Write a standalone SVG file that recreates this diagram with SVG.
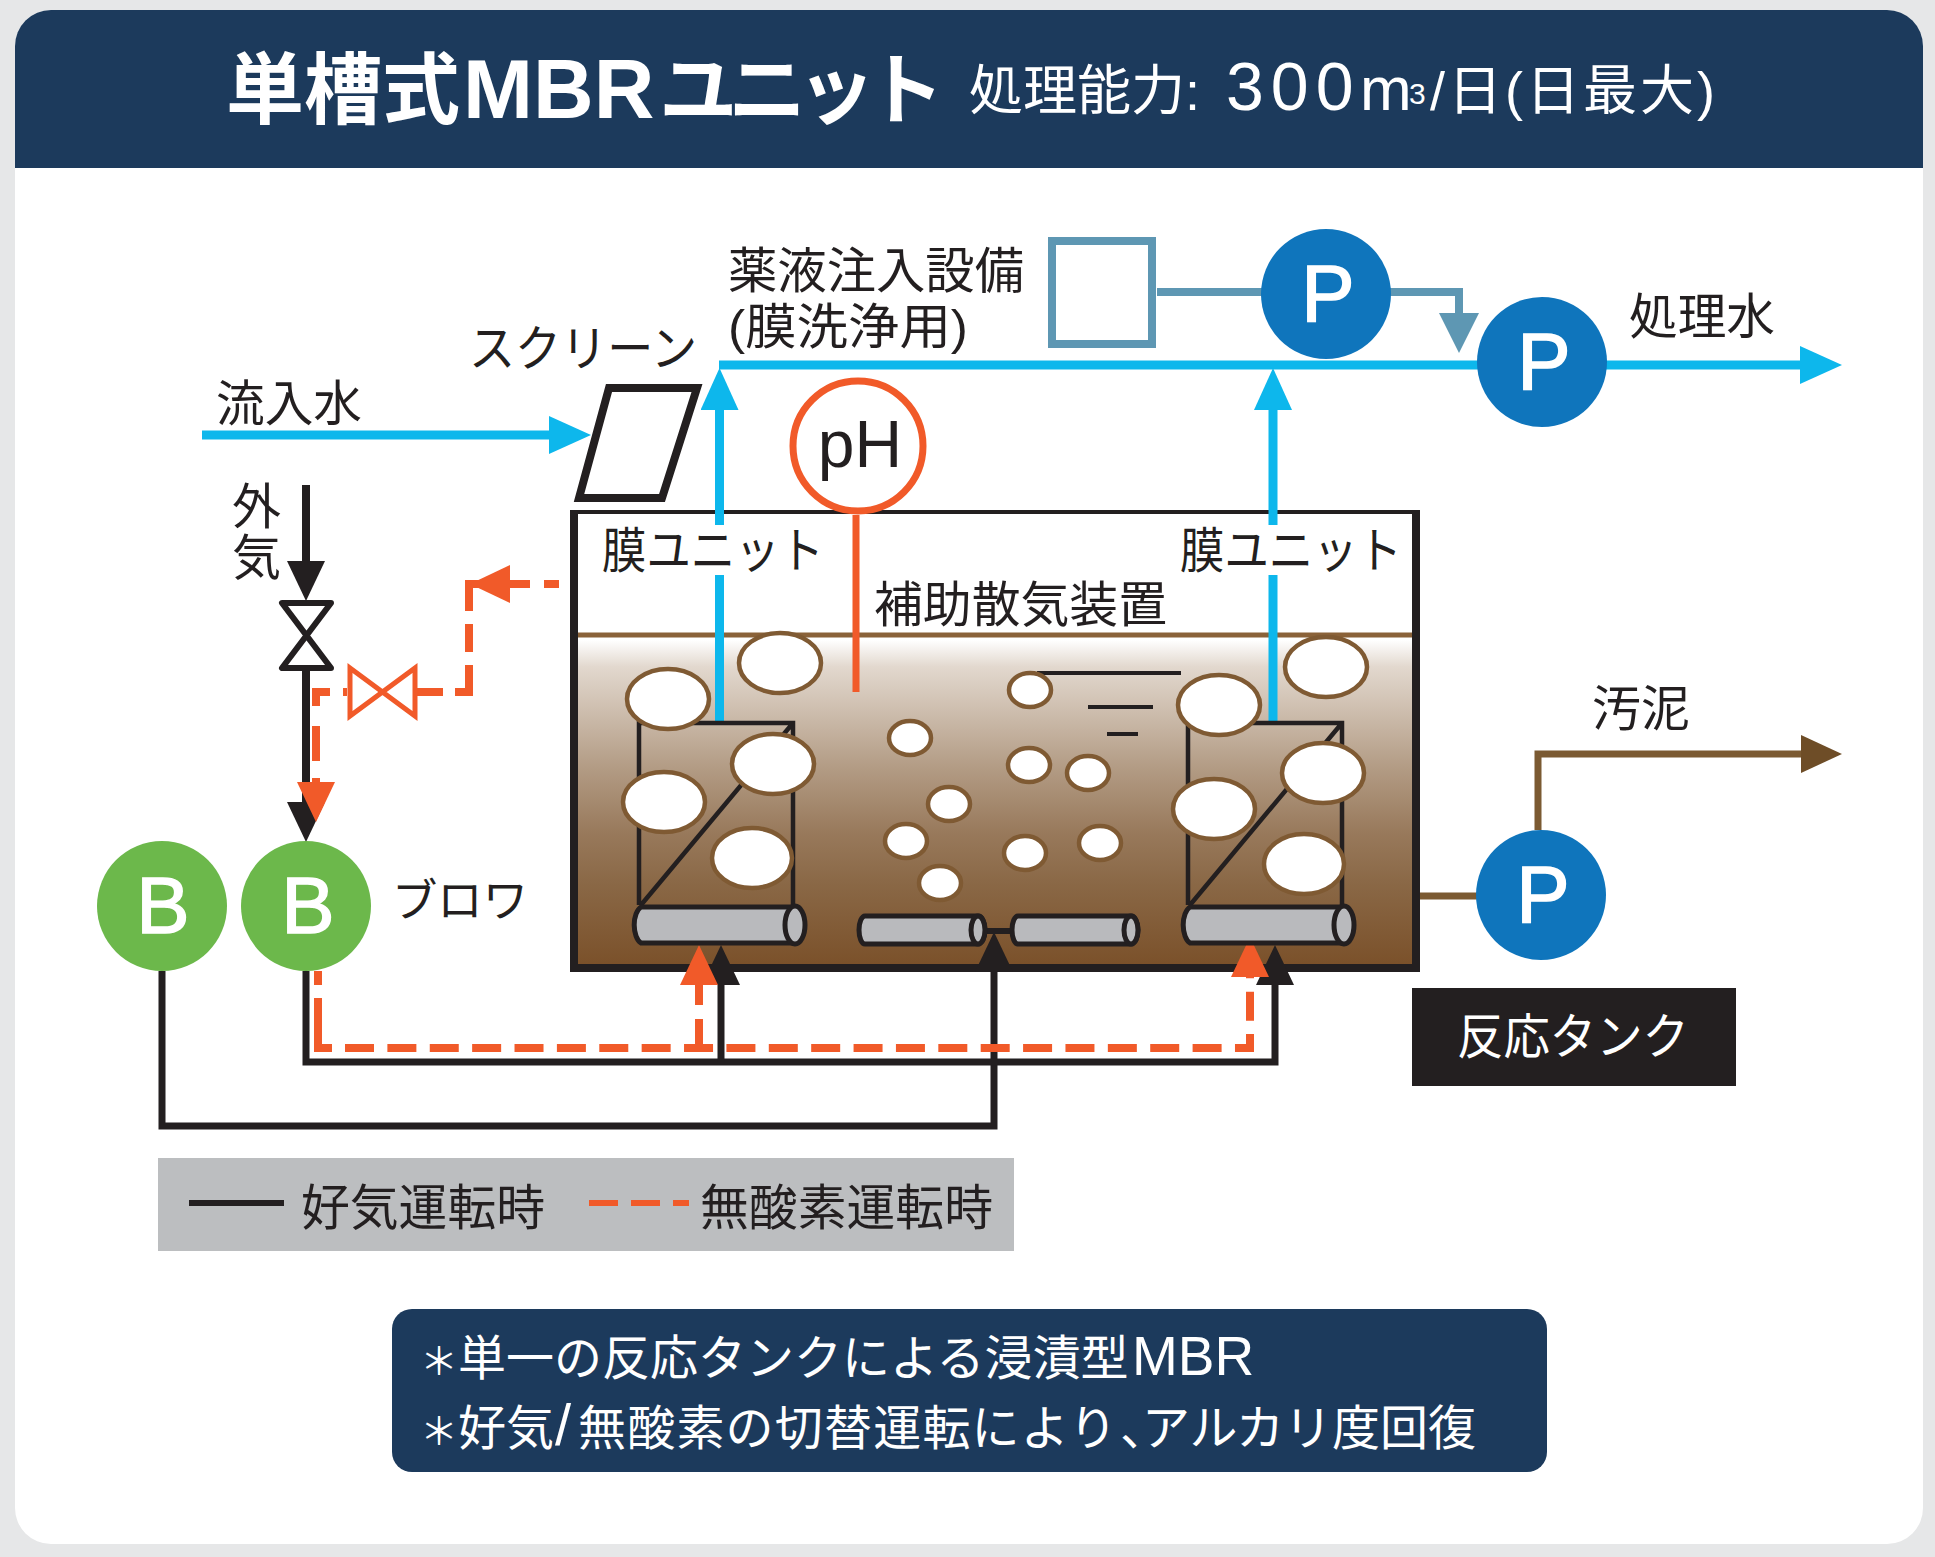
<svg xmlns="http://www.w3.org/2000/svg" width="1935" height="1557" viewBox="0 0 1935 1557">
<defs>
<style>
text{font-family:"Liberation Sans","Noto Sans CJK JP",sans-serif;fill:#231f20;font-size:49px}
.w{fill:#fff}
.sym{font-size:80px;fill:#fff;text-anchor:middle;stroke:#fff;stroke-width:1.500}
.bubL,.bubS{fill:#fff;stroke:#7f5a33;stroke-width:4.500}
.k{fill:none;stroke:#231f20;stroke-width:7}
.b{fill:none;stroke:#0db7ec;stroke-width:9}
.o{fill:none;stroke:#f15a29;stroke-width:8}
.t{fill:none;stroke:#5e97b3;stroke-width:8}
.br{fill:none;stroke:#7b5a32;stroke-width:7}
.cyl{fill:#b9babd;stroke:#231f20;stroke-width:5}
.unit{fill:none;stroke:#231f20;stroke-width:4.500}
</style>
<linearGradient id="water" x1="0" y1="0" x2="0" y2="1">
<stop offset="0" stop-color="#fff"/><stop offset="0.015" stop-color="#fff"/><stop offset="0.096" stop-color="#e2d8ce"/><stop offset="0.396" stop-color="#b39c85"/><stop offset="0.595" stop-color="#98795b"/><stop offset="0.745" stop-color="#8a6846"/><stop offset="1" stop-color="#7a5029"/>
</linearGradient>
<marker id="aB" markerUnits="userSpaceOnUse" markerWidth="42" markerHeight="38" refX="0" refY="19" orient="auto"><path d="M0 0L42 19L0 38Z" fill="#0db7ec"/></marker>
<marker id="aK" markerUnits="userSpaceOnUse" markerWidth="40" markerHeight="38" refX="0" refY="19" orient="auto"><path d="M0 0L40 19L0 38Z" fill="#231f20"/></marker>
<marker id="aO" markerUnits="userSpaceOnUse" markerWidth="40" markerHeight="38" refX="0" refY="19" orient="auto"><path d="M0 0L40 19L0 38Z" fill="#f15a29"/></marker>
<marker id="aT" markerUnits="userSpaceOnUse" markerWidth="40" markerHeight="40" refX="0" refY="20" orient="auto"><path d="M0 0L40 20L0 40Z" fill="#5e97b3"/></marker>
<marker id="aBr" markerUnits="userSpaceOnUse" markerWidth="41" markerHeight="38" refX="0" refY="19" orient="auto"><path d="M0 0L41 19L0 38Z" fill="#6e4d27"/></marker>
</defs>
<rect width="1935" height="1557" fill="#e6e7e8"/>
<g id="card">
<rect x="15" y="10" width="1908" height="1534" rx="36" fill="#fff"/>
<path d="M15 168V46A36 36 0 0 1 51 10H1887A36 36 0 0 1 1923 46V168Z" fill="#1c3a5c"/>
<text class="w" x="226" y="118" font-weight="700" style="font-size:78px">単槽式<tspan style="font-size:84px" dx="3">MBR</tspan><tspan dx="5" letter-spacing="-9">ユニット</tspan></text>
<text class="w" x="969" y="110" style="font-size:54px">処理能力:<tspan x="1226" style="font-size:68px" letter-spacing="7">300</tspan><tspan x="1360" style="font-size:62px">m</tspan><tspan x="1409" style="font-size:30px" dy="-6">3</tspan><tspan x="1430" dy="6" letter-spacing="3">/日(日最大)</tspan></text>
</g>
<g id="tank">
<rect x="574" y="635" width="842" height="333" fill="url(#water)"/>
<path d="M574 635H1416" stroke="#8a6239" stroke-width="5" fill="none"/>
<path fill-rule="evenodd" fill="#231f20" d="M570 510H1420V972H570ZM578 514V964H1412V514Z"/>
<path d="M1037 673H1181M1088 707H1153M1107 734H1138" stroke="#231f20" fill="none" stroke-width="4"/>
<text x="874" y="622" textLength="293" lengthAdjust="spacingAndGlyphs">補助散気装置</text>
</g>
<g id="connectors">
<path class="b" d="M202 435H549" marker-end="url(#aB)"/>
<path class="b" d="M719 365H1800" marker-end="url(#aB)"/>
<path class="b" d="M719.500 525V410" marker-end="url(#aB)"/>
<path class="b" d="M719.500 723V575"/>
<path class="b" d="M1273 525V410" marker-end="url(#aB)"/>
<path class="b" d="M1273 723V575"/>
<path class="t" d="M1157 292H1459V313" marker-end="url(#aT)"/>
<path class="br" d="M1420 896H1480"/>
<path class="br" d="M1538 830V754H1801" marker-end="url(#aBr)"/>
<path d="M856 515V692" fill="none" stroke="#f15a29" stroke-width="7"/>
<path class="k" style="stroke-width:8" d="M306 485V561" marker-end="url(#aK)"/>
<path class="k" style="stroke-width:8" d="M306 671V802" marker-end="url(#aK)"/>
<path class="k" d="M162 971V1126H994V972" marker-end="url(#aK)"/>
<path class="k" d="M306 971V1062H1275V985" marker-end="url(#aK)"/>
<path class="k" d="M721 1062V985" marker-end="url(#aK)"/>
<path d="M985 931H1011" stroke="#231f20" stroke-width="6" fill="none"/>
<path class="o" stroke-dasharray="26 12 41 13 28 13 88 14 15 200" d="M417 692H469V584H559"/>
<path d="M510 584H473" stroke="none" fill="none" marker-start="url(#aO)"/>
<path class="o" d="M347 692H343"/>
<path class="o" stroke-dasharray="28 20 35 17 200" d="M330 692H316V782" marker-end="url(#aO)"/>
<path class="o" d="M318 971V985M318 998V1048H332"/>
<path class="o" stroke-dasharray="29 13.380" d="M345 1048H1250V977" marker-end="url(#aO)"/>
<path class="o" stroke-dasharray="29 14" d="M699 1048V985" marker-end="url(#aO)"/>
</g>
<g id="screen">
<path d="M609 388H697L662 498H579Z" fill="#fff" stroke="#231f20" stroke-width="8"/>
<text x="469" y="366" textLength="228" lengthAdjust="spacingAndGlyphs">スクリーン</text>
</g>
<g id="inflow-label"><text x="216" y="421" textLength="146" lengthAdjust="spacingAndGlyphs">流入水</text></g>
<g id="chem">
<rect x="1052" y="241" width="100" height="103" fill="#fff" stroke="#5e97b3" stroke-width="8"/>
<text x="728" y="288" textLength="296" lengthAdjust="spacingAndGlyphs">薬液注入設備</text>
<text x="728" y="344" textLength="240" lengthAdjust="spacingAndGlyphs">(膜洗浄用)</text>
</g>
<g id="pump1"><circle cx="1326" cy="294" r="65" fill="#0f75bc"/><text class="sym" x="1328" y="321">P</text></g>
<g id="pump2"><circle cx="1542" cy="362" r="65" fill="#0f75bc"/><text class="sym" x="1544" y="389">P</text></g>
<g id="treated-label"><text x="1629" y="334" textLength="146" lengthAdjust="spacingAndGlyphs">処理水</text></g>
<g id="pump3"><circle cx="1541" cy="895" r="65" fill="#0f75bc"/><text class="sym" x="1543" y="922">P</text></g>
<g id="sludge-label"><text x="1592" y="726" textLength="98" lengthAdjust="spacingAndGlyphs">汚泥</text></g>
<g id="ph">
<circle cx="858" cy="446" r="65" fill="#fff" stroke="#f15a29" stroke-width="7"/>
<text x="860" y="467" text-anchor="middle" style="font-size:66px">pH</text>
</g>
<g id="unit-left">
<text x="602" y="568" textLength="222" lengthAdjust="spacingAndGlyphs">膜ユニット</text>
<path class="unit" d="M639 905V723H793V905M641 905L793 723"/>
<path class="cyl" d="M641 907H795A10 19 0 0 1 795 943H641A10 19 0 0 1 641 907Z"/>
<ellipse class="cyl" cx="795" cy="925" rx="10" ry="19"/>
</g>
<g id="unit-right">
<text x="1180" y="568" textLength="222" lengthAdjust="spacingAndGlyphs">膜ユニット</text>
<path class="unit" d="M1188 905V723H1342V905M1190 905L1342 723"/>
<path class="cyl" d="M1190 907H1344A10 19 0 0 1 1344 943H1190A10 19 0 0 1 1190 907Z"/>
<ellipse class="cyl" cx="1344" cy="925" rx="10" ry="19"/>
</g>
<g id="aux-diffuser">
<path class="cyl" d="M865 916H978A7 14 0 0 1 978 944H865A6 14 0 0 1 865 916Z"/>
<ellipse class="cyl" cx="978" cy="930" rx="7" ry="14"/>
<path class="cyl" d="M1018 916H1131A7 14 0 0 1 1131 944H1018A6 14 0 0 1 1018 916Z"/>
<ellipse class="cyl" cx="1131" cy="930" rx="7" ry="14"/>
</g>
<g id="bubbles">
<ellipse class="bubL" cx="668" cy="699" rx="41" ry="30"/><ellipse class="bubL" cx="780" cy="663" rx="41" ry="30"/><ellipse class="bubL" cx="773" cy="764" rx="41" ry="30"/><ellipse class="bubL" cx="664" cy="802" rx="41" ry="30"/><ellipse class="bubL" cx="752" cy="858" rx="40" ry="30"/>
<ellipse class="bubL" cx="1219" cy="705" rx="41" ry="30"/><ellipse class="bubL" cx="1326" cy="667" rx="41" ry="30"/><ellipse class="bubL" cx="1323" cy="773" rx="41" ry="30"/><ellipse class="bubL" cx="1214" cy="809" rx="41" ry="30"/><ellipse class="bubL" cx="1304" cy="864" rx="40" ry="30"/>
<ellipse class="bubS" cx="1030" cy="690" rx="21" ry="17"/><ellipse class="bubS" cx="910" cy="738" rx="21" ry="17"/><ellipse class="bubS" cx="1029" cy="765" rx="21" ry="17"/><ellipse class="bubS" cx="1088" cy="773" rx="21" ry="17"/><ellipse class="bubS" cx="949" cy="804" rx="21" ry="17"/><ellipse class="bubS" cx="906" cy="841" rx="21" ry="17"/><ellipse class="bubS" cx="1025" cy="853" rx="21" ry="17"/><ellipse class="bubS" cx="1100" cy="843" rx="21" ry="17"/><ellipse class="bubS" cx="940" cy="883" rx="21" ry="17"/>
</g>
<g id="air-label"><text x="232" y="524">外</text><text x="232" y="575">気</text></g>
<g id="valve-air"><path d="M282 603H331L282 668H331Z" fill="#fff" stroke="#231f20" stroke-width="6" stroke-linejoin="round"/></g>
<g id="valve-return"><path d="M350 668L415 716V668L350 716Z" fill="#fff" stroke="#f15a29" stroke-width="5"/></g>
<g id="blower1"><circle cx="162" cy="906" r="65" fill="#6cb84b"/><text class="sym" x="163" y="933">B</text></g>
<g id="blower2"><circle cx="306" cy="906" r="65" fill="#6cb84b"/><text class="sym" x="308" y="933">B</text></g>
<g id="blower-label"><text x="392" y="917" textLength="136" lengthAdjust="spacingAndGlyphs" style="font-size:45px">ブロワ</text></g>
<g id="tank-label">
<rect x="1412" y="988" width="324" height="98" fill="#231f20"/>
<text class="w" x="1457" y="1054" textLength="232" lengthAdjust="spacingAndGlyphs">反応タンク</text>
</g>
<g id="legend">
<rect x="158" y="1158" width="856" height="93" fill="#bcbec0"/>
<path d="M189 1203H284" stroke="#231f20" stroke-width="6" fill="none"/>
<path d="M589 1203H689" stroke="#f15a29" stroke-width="6" stroke-dasharray="29 13" fill="none"/>
<text x="301" y="1225" textLength="244" lengthAdjust="spacingAndGlyphs">好気運転時</text>
<text x="700" y="1225" textLength="293" lengthAdjust="spacingAndGlyphs">無酸素運転時</text>
</g>
<g id="notes">
<rect x="392" y="1309" width="1155" height="163" rx="20" fill="#1c3a5c"/>
<text class="w" x="420" y="1375" style="font-size:48px"><tspan style="font-size:38px">＊</tspan><tspan x="458">単一の反応タンクによる浸漬型</tspan><tspan x="1132" style="font-size:55px">MBR</tspan></text>
<text class="w" x="420" y="1445" style="font-size:48px"><tspan style="font-size:38px">＊</tspan><tspan x="458">好気</tspan><tspan x="555" style="font-size:58px">/</tspan><tspan x="578" letter-spacing="1.200">無酸素の切替運転により</tspan><tspan x="1120" letter-spacing="-26">、</tspan><tspan>アルカリ度回復</tspan></text>
</g>
</svg>
